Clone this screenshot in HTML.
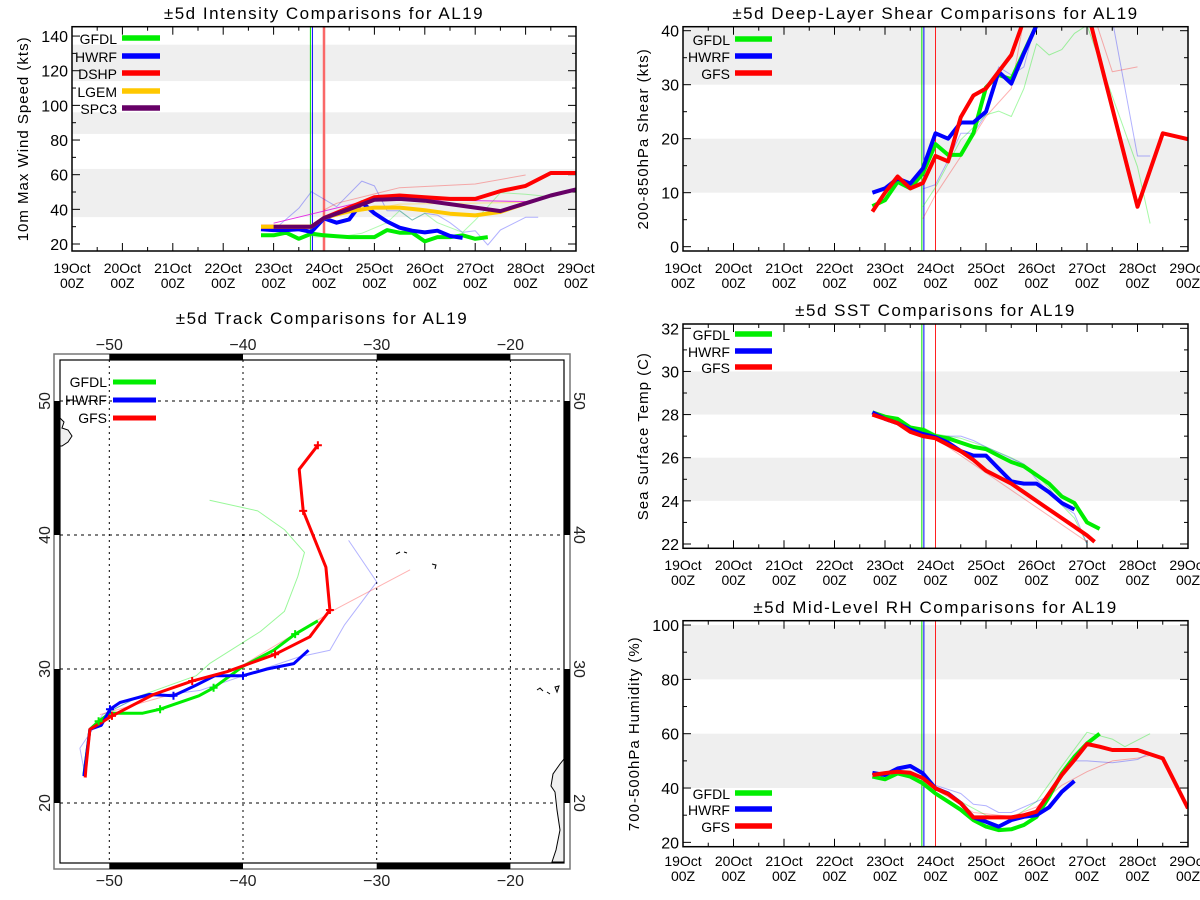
<!DOCTYPE html>
<html><head><meta charset="utf-8"><style>
html,body{margin:0;padding:0;background:#fff;}
svg{display:block;font-family:"Liberation Sans",sans-serif;}
</style></head><body>
<svg id="root" width="1200" height="900" viewBox="0 0 1200 900" xmlns="http://www.w3.org/2000/svg">
<rect x="0" y="0" width="1200" height="900" fill="#fff"/>
</svg>
<script>
// ---------- shared ----------
const dayLabels = ["19Oct","20Oct","21Oct","22Oct","23Oct","24Oct","25Oct","26Oct","27Oct","28Oct","29Oct"];
const initLines = [4.73, 4.77, 5.0];

// ---------- intensity data (days since 19Oct 00Z, kts) ----------
const intGfdlT = [3.75,4,4.25,4.5,4.75,5,5.25,5.5,5.75,6,6.25,6.5,6.75,7,7.25,7.5,7.75,8,8.25];
const intGfdlV = [25,25,26.5,23,26,25,24.5,24,24,24,28,26.5,26.5,21.5,24,24,25,23,24];
const intHwrfT = [3.75,4,4.25,4.5,4.75,5,5.25,5.5,5.75,6,6.25,6.5,6.75,7,7.25,7.5,7.75];
const intHwrfV = [28.5,28,28,28.5,27,34.8,32.3,34.2,44,37.7,33,29.4,27.7,26.7,27.7,24.6,23.5];
const intDshpT = [3.75,4,4.25,4.5,4.75,5,5.5,6,6.5,7,7.5,8,8.5,9,9.5,10];
const intDshpV = [30,30,30,30,30,35,41,47,48,47,46,46,50.5,53.5,61,61];
const intLgemT = [3.75,4,4.25,4.5,4.75,5,5.5,6,6.5,7,7.5,8,8.5,9];
const intLgemV = [30,30,30,30,30,35,39,41,41,39.5,37.5,36.5,38.5,43.5];
const intSpc3T = [4,4.25,4.5,4.75,5,5.5,6,6.5,7,7.5,8,8.5,9,9.5,10];
const intSpc3V = [30,30,30,30,35,40,45.5,46,45,43,41,39,43.5,48,51.5];
const intOldHwrfT = [4,4.5,4.75,5.25,5.75,6,6.25,6.5,6.75,7,7.25,7.5,7.75,8,8.25,8.5,9,9.25];
const intOldHwrfV = [28,40.6,50.2,41.5,56.3,53.5,39.2,39.2,33.8,37.7,36.7,32.3,26.7,27.7,19.4,28.1,35.4,35.4];
const intOldGfdlT = [4.75,5.25,5.75,6.25,6.5,6.75,7,7.25,7.75,8,8.25,8.5,9,9.5];
const intOldGfdlV = [24.2,23.8,26.2,32.3,39.2,33.8,37.7,32.3,26.7,33.8,41.5,49.6,48.7,47.3];
const intOldDshpT = [5,5.25,6.5,8,9];
const intOldDshpV = [39.6,43.5,52.5,54.6,59.8];
const intOldSpc3T = [4,6,9];
const intOldSpc3V = [32,46,44.5];
const intOldLgemT = [5,6.5,9];
const intOldLgemV = [35,43,44];

// ---------- shear data ----------
const shrGfdlT = [3.75,4,4.25,4.5,4.75,5,5.25,5.5,5.75,6,6.25,6.5,6.75,7];
const shrGfdlV = [7.5,8.6,12,10.8,13.6,19,17,17,21,29.5,31.8,31,36,41];
const shrHwrfT = [3.75,4,4.25,4.5,4.75,5,5.25,5.5,5.75,6,6.25,6.5,6.75,7];
const shrHwrfV = [10,10.8,12.6,11.7,14.5,21,20,23,23,25,32.4,30.2,35.8,41];
const shrGfsT = [3.75,4,4.25,4.5,4.75,5,5.25,5.5,5.75,6,6.25,6.5,6.75,7,8,9,9.5,10];
const shrGfsV = [6.5,10,13,10.8,11.8,16.8,15.8,24,28,29.3,32.4,35.5,42,50,44,7.4,21,19.9];
const shrOldGfdlT = [4.75,5,5.5,6,6.25,6.5,6.75,7,7.25,7.5,7.75,8,9,9.25];
const shrOldGfdlV = [7.4,11,19.8,24.4,25.1,24.1,29.3,37.6,35.5,36.5,39.5,41,14.8,4.3];
const shrOldHwrfT = [4.75,5,5.25,5.5,5.75,6,6.25,6.5,6.75,7,8.5,9,9.25];
const shrOldHwrfV = [10.7,11.5,16,21,21,24.5,33.3,31.8,33.3,42,42,16.8,16.8];
const shrOldGfsT = [4.75,5,5.5,6,6.5,6.75,8.2,8.5,9];
const shrOldGfsV = [5.2,9.6,16.7,24.1,29.3,42,41,32.4,33.3];

// ---------- SST data ----------
const sstGfdlT = [3.75,4,4.25,4.5,4.75,5,5.25,5.5,5.75,6,6.25,6.5,6.75,7,7.25,7.5,7.75,8,8.25];
const sstGfdlV = [28.1,27.9,27.8,27.4,27.3,27.0,26.9,26.7,26.5,26.4,26.1,25.8,25.6,25.2,24.8,24.2,23.9,23.0,22.7];
const sstHwrfT = [3.75,4,4.25,4.5,4.75,5,5.25,5.5,5.75,6,6.25,6.5,6.75,7,7.25,7.5,7.75];
const sstHwrfV = [28.1,27.8,27.6,27.3,27.1,26.95,26.7,26.3,26.1,26.1,25.5,24.9,24.8,24.8,24.4,23.9,23.6];
const sstGfsT = [3.75,4,4.25,4.5,4.75,5,5.25,5.5,5.75,6,6.25,6.5,6.75,7,7.25,7.5,7.75,8,8.15];
const sstGfsV = [28.0,27.8,27.6,27.2,27.0,26.9,26.6,26.3,25.9,25.4,25.1,24.8,24.4,24.0,23.6,23.2,22.8,22.4,22.1];
const sstOldHwrfT = [5,5.5,5.75,6,6.75,7,7.25,7.5,7.75,8];
const sstOldHwrfV = [27,27,26.8,26.5,25.7,25.0,24.4,23.8,23.4,22.0];
const sstOldGfdlT = [4.75,5,5.5,6,6.5,6.75,7,7.25,7.5,7.75,8];
const sstOldGfdlV = [27.4,27.1,26.9,26.5,26.0,25.7,25.2,24.6,23.8,23.2,22.0];
const sstOldGfsT = [5,8];
const sstOldGfsV = [26.9,22.1];

// ---------- RH data ----------
const rhGfdlT = [3.75,4,4.25,4.5,4.75,5,5.25,5.5,5.75,6,6.25,6.5,6.75,7,7.25,7.5,7.75,8,8.25];
const rhGfdlV = [44.2,43.2,45.4,44.2,41.7,38,35,32,28.2,25.8,24.5,24.8,26.4,29.4,36.8,45.4,51.5,56.4,60];
const rhHwrfT = [3.75,4,4.25,4.5,4.75,5,5.25,5.5,5.75,6,6.25,6.5,6.75,7,7.25,7.5,7.75];
const rhHwrfV = [45.6,44.8,47.2,48.1,45.4,39.9,38,34.4,29.2,27.6,25.8,28.2,29.4,30,32.9,38.6,42.6];
const rhGfsT = [3.75,4,4.25,4.5,4.75,5,5.25,5.5,5.75,6,6.25,6.5,6.75,7,7.25,7.5,7.75,8,8.25,8.5,9,9.5,10];
const rhGfsV = [44.8,45.5,46,45.6,43.6,39.9,37.8,34.4,29.2,29.2,29.2,29.2,30,31.3,38,44.8,50.3,56.2,55.2,54,54,50.9,32.5];
const rhOldGfdlT = [5,6,6.5,7,7.5,8,8.5,8.75,9.25];
const rhOldGfdlV = [40,30,28.5,35,48,60.5,58,55.2,60];
const rhOldHwrfT = [5,5.5,5.75,6,6.25,6.5,7,7.25,7.5,7.75,8,8.5,9,9.25];
const rhOldHwrfV = [41,38,34,33.5,31,31,35,37,44,50,50,49.3,50.5,53];
const rhOldGfsT = [5,5.75,6.5,7,7.5,8,8.5,9,9.25];
const rhOldGfsV = [39.5,31,29.5,33,41,46,50,51,52];

// ---------- track data (lon, lat) ----------
const trkGfsLon = [-51.8,-51.75,-51.45,-50.6,-49.8,-46.7,-43.8,-41.2,-37.6,-35.0,-33.5,-33.8,-35.5,-35.8,-34.4];
const trkGfsLat = [21.9,22.6,25.5,26.0,26.5,28.1,29.1,29.8,31.1,32.4,34.4,37.6,41.8,44.9,46.7];
const trkGfsMarkLon = [-49.8,-43.8,-37.6,-33.5,-35.5,-34.4];
const trkGfsMarkLat = [26.5,29.1,31.1,34.4,41.8,46.7];
const trkGfdlLon = [-51.9,-51.45,-50.8,-49.95,-47.5,-46.2,-43.3,-42.2,-40,-37.7,-36.1,-34.4];
const trkGfdlLat = [22.1,25.5,26.1,26.7,26.7,27.0,28.0,28.6,30.2,31.4,32.6,33.6];
const trkGfdlMarkLon = [-50.8,-46.2,-42.2,-36.1];
const trkGfdlMarkLat = [26.1,27.0,28.6,32.6];
const trkHwrfLon = [-51.9,-51.45,-50.6,-49.95,-49.2,-47,-45.2,-43.5,-42.1,-40,-38.2,-36.2,-35.1];
const trkHwrfLat = [22.0,25.5,25.8,27.0,27.5,28.1,28.0,28.8,29.5,29.5,30.0,30.4,31.4];
const trkHwrfMarkLon = [-49.95,-45.2,-40];
const trkHwrfMarkLat = [27.0,28.0,29.5];
const trkOldGfdlLon = [-42.5,-38.9,-36.9,-35.4,-35.9,-36.9,-38.7,-42.5,-43.5,-47.7,-50.2,-51.3];
const trkOldGfdlLat = [42.6,41.8,40.4,38.7,36.9,34.3,32.8,30.4,29.5,28,26.7,25.5];
const trkOldHwrfLon = [-32.1,-30,-32.4,-33.5,-35.8,-38.5,-43.2,-48,-50.5,-52.2,-51.9];
const trkOldHwrfLat = [39.6,36.5,33.3,31.4,30.9,30.0,28.4,27.8,26.6,24.1,22.5];
const trkOldGfsLon = [-27.5,-33,-40,-45,-50.7];
const trkOldGfsLat = [37.4,34.5,30.3,28.2,26.6];

// ---------- drawing helpers ----------
const NS = "http://www.w3.org/2000/svg";
const root = document.getElementById("root");
function mk(tag, attrs, parent) {
  const e = document.createElementNS(NS, tag);
  for (const k in attrs) e.setAttribute(k, attrs[k]);
  (parent || root).appendChild(e);
  return e;
}
function txt(s, attrs, parent) { const e = mk("text", attrs, parent); e.textContent = s; return e; }

let clipN = 0;
function panel(c) {
  const g = mk("g", {});
  
  
  const xs = d => c.x0 + (c.x1 - c.x0) * d / 10;
  const ys = v => c.y1 - (c.y1 - c.y0) * (v - c.vmin) / (c.vmax - c.vmin);
  c.bands.forEach(b => {
    const r = mk("rect", {x: c.x0, y: ys(Math.min(b[1], c.vmax)), width: c.x1 - c.x0, height: ys(b[0]) - ys(Math.min(b[1], c.vmax)), fill: "#efefef"}, g);
    
    
  });
  const t = txt(c.title, {x: (c.x0 + c.x1) / 2, y: c.titleY, "text-anchor": "middle", "font-size": 17, "letter-spacing": 1.5, fill: "#000"}, g);
  
  
  const yl = txt(c.ylabel, {x: 0, y: 0, "text-anchor": "middle", "font-size": 15, "letter-spacing": 1, fill: "#000", transform: `translate(${c.ylabelX},${(c.y0 + c.y1) / 2}) rotate(-90)`}, g);
  
  
  for (let d = 0; d <= 10; d++) {
    const x = xs(d);
    mk("line", {x1: x, x2: x, y1: c.y1, y2: c.y1 - 8, stroke: "#000", "stroke-width": 1}, g);
    mk("line", {x1: x, x2: x, y1: c.y0, y2: c.y0 + 8, stroke: "#000", "stroke-width": 1}, g);
    if (d < 10) {
      const xm = xs(d + 0.5);
      mk("line", {x1: xm, x2: xm, y1: c.y1, y2: c.y1 - 4, stroke: "#000"}, g);
      mk("line", {x1: xm, x2: xm, y1: c.y0, y2: c.y0 + 4, stroke: "#000"}, g);
    }
    const l1 = txt(dayLabels[d], {x: x, y: c.labY, "text-anchor": "middle", "font-size": 14, fill: "#000"}, g);
    
    
    const l2 = txt("00Z", {x: x, y: c.labY + 15, "text-anchor": "middle", "font-size": 14, fill: "#000"}, g);
    
    
  }
  for (let v = c.tickStart; v <= c.vmax + 1e-9; v += c.minor) {
    const y = ys(v);
    const major = Math.abs(((v - c.tickStart) / c.major) - Math.round((v - c.tickStart) / c.major)) < 1e-6;
    const len = major ? 8 : 4;
    mk("line", {x1: c.x0, x2: c.x0 + len, y1: y, y2: y, stroke: "#000"}, g);
    mk("line", {x1: c.x1, x2: c.x1 - len, y1: y, y2: y, stroke: "#000"}, g);
    if (major) {
      const yt = txt(String(Math.round(v)), {x: c.x0 - 4, y: y + 6, "text-anchor": "end", "font-size": 16, fill: "#000"}, g);
      
      
    }
  }
  const id = "clp" + (clipN++);
  const cp = mk("clipPath", {id: id}, g);
  mk("rect", {x: c.x0, y: c.y0, width: c.x1 - c.x0, height: c.y1 - c.y0}, cp);
  const sg = mk("g", {"clip-path": `url(#${id})`}, g);
  if (c.bandInit) {
    mk("rect", {x: xs(initLines[2]) - 1.5, y: c.y0, width: 3, height: c.y1 - c.y0, fill: "#f6b0b0"}, sg);
  }
  const ic = ["#00e000", "#0000ff", "#ff2020"];
  initLines.forEach((d, i) => {
    const l = mk("line", {x1: xs(d), x2: xs(d), y1: c.y0, y2: c.y1, stroke: ic[i], "stroke-width": 1}, sg);
    
    
  });
  c.series.forEach(s => {
    const pts = s.t.map((d, i) => xs(d).toFixed(1) + "," + ys(s.v[i]).toFixed(1)).join(" ");
    const p = mk("polyline", {points: pts, fill: "none", stroke: s.color, "stroke-width": s.w, opacity: s.op || 1, "stroke-linejoin": "round"}, sg);
    
    
  });
  mk("rect", {x: c.x0, y: c.y0, width: c.x1 - c.x0, height: c.y1 - c.y0, fill: "none", stroke: "#000", "stroke-width": 1.5}, g);
  c.legend.forEach((e, i) => {
    const y = c.legY[i];
    const lt = txt(e[0], {x: c.legTextX, y: y + 6, "text-anchor": "end", "font-size": 14, fill: "#000"}, g);
    
    
    const ll = mk("line", {x1: c.legX0, x2: c.legX1, y1: y, y2: y, stroke: e[1], "stroke-width": 5.5}, g);
    
    
  });
}

const G = "#00ee00", B = "#0000ff", R = "#ff0000", O = "#ffc800", P = "#660066";
const TW = 4;

panel({name: "intensity-panel", x0: 72, x1: 576, y0: 26.7, y1: 251, vmin: 15.96, vmax: 145.4,
  bands: [[35.5, 63.3], [83.5, 96], [114, 135]], title: "±5d Intensity Comparisons for AL19", titleY: 19,
  ylabel: "10m Max Wind Speed (kts)", ylabelX: 28, labY: 273, tickStart: 20, major: 20, minor: 10, bandInit: true,
  series: [
    {name: "hwrf-previous-line", t: intOldHwrfT, v: intOldHwrfV, color: B, w: 1, op: 0.3},
    {name: "gfdl-previous-line", t: intOldGfdlT, v: intOldGfdlV, color: G, w: 1, op: 0.3},
    {name: "dshp-previous-line", t: intOldDshpT, v: intOldDshpV, color: R, w: 1, op: 0.3},
    {name: "lgem-previous-line", t: intOldLgemT, v: intOldLgemV, color: O, w: 1, op: 0.4},
    {name: "spc3-previous-line", t: intOldSpc3T, v: intOldSpc3V, color: "#e000e0", w: 1, op: 0.8},
    {name: "gfdl-line", t: intGfdlT, v: intGfdlV, color: G, w: TW},
    {name: "hwrf-line", t: intHwrfT, v: intHwrfV, color: B, w: TW},
    {name: "dshp-line", t: intDshpT, v: intDshpV, color: R, w: TW},
    {name: "lgem-line", t: intLgemT, v: intLgemV, color: O, w: TW},
    {name: "spc3-line", t: intSpc3T, v: intSpc3V, color: P, w: TW}],
  legend: [["GFDL", G], ["HWRF", B], ["DSHP", R], ["LGEM", O], ["SPC3", P]],
  legY: [38, 56, 73, 91, 108], legTextX: 117, legX0: 122, legX1: 160});

panel({name: "shear-panel", x0: 683, x1: 1188, y0: 26.7, y1: 251, vmin: -0.8, vmax: 40.74,
  bands: [[10, 20], [30, 40.74]], title: "±5d Deep-Layer Shear Comparisons for AL19", titleY: 19,
  ylabel: "200-850hPa Shear (kts)", ylabelX: 648, labY: 273, tickStart: 0, major: 10, minor: 5,
  series: [
    {name: "gfdl-previous-line", t: shrOldGfdlT, v: shrOldGfdlV, color: G, w: 1, op: 0.35},
    {name: "hwrf-previous-line", t: shrOldHwrfT, v: shrOldHwrfV, color: B, w: 1, op: 0.3},
    {name: "gfs-previous-line", t: shrOldGfsT, v: shrOldGfsV, color: R, w: 1, op: 0.3},
    {name: "gfdl-line", t: shrGfdlT, v: shrGfdlV, color: G, w: TW},
    {name: "hwrf-line", t: shrHwrfT, v: shrHwrfV, color: B, w: TW},
    {name: "gfs-line", t: shrGfsT, v: shrGfsV, color: R, w: TW}],
  legend: [["GFDL", G], ["HWRF", B], ["GFS", R]],
  legY: [39, 56, 73], legTextX: 730, legX0: 735, legX1: 772});

panel({name: "sst-panel", x0: 683, x1: 1188, y0: 324, y1: 548.3, vmin: 21.8, vmax: 32.2,
  bands: [[24, 26], [28, 30]], title: "±5d SST Comparisons for AL19", titleY: 316,
  ylabel: "Sea Surface Temp (C)", ylabelX: 648, labY: 570, tickStart: 22, major: 2, minor: 1,
  series: [
    {name: "gfdl-previous-line", t: sstOldGfdlT, v: sstOldGfdlV, color: G, w: 1, op: 0.35},
    {name: "hwrf-previous-line", t: sstOldHwrfT, v: sstOldHwrfV, color: B, w: 1, op: 0.3},
    {name: "gfs-previous-line", t: sstOldGfsT, v: sstOldGfsV, color: R, w: 1, op: 0.3},
    {name: "gfdl-line", t: sstGfdlT, v: sstGfdlV, color: G, w: TW},
    {name: "hwrf-line", t: sstHwrfT, v: sstHwrfV, color: B, w: TW},
    {name: "gfs-line", t: sstGfsT, v: sstGfsV, color: R, w: TW}],
  legend: [["GFDL", G], ["HWRF", B], ["GFS", R]],
  legY: [334, 351, 367], legTextX: 730, legX0: 735, legX1: 772});

panel({name: "rh-panel", x0: 683, x1: 1188, y0: 620.7, y1: 846.7, vmin: 18.4, vmax: 101.6,
  bands: [[40, 60], [80, 100]], title: "±5d Mid-Level RH Comparisons for AL19", titleY: 613,
  ylabel: "700-500hPa Humidity (%)", ylabelX: 639, labY: 866, tickStart: 20, major: 20, minor: 10,
  series: [
    {name: "gfdl-previous-line", t: rhOldGfdlT, v: rhOldGfdlV, color: G, w: 1, op: 0.35},
    {name: "hwrf-previous-line", t: rhOldHwrfT, v: rhOldHwrfV, color: B, w: 1, op: 0.3},
    {name: "gfs-previous-line", t: rhOldGfsT, v: rhOldGfsV, color: R, w: 1, op: 0.3},
    {name: "gfdl-line", t: rhGfdlT, v: rhGfdlV, color: G, w: TW},
    {name: "hwrf-line", t: rhHwrfT, v: rhHwrfV, color: B, w: TW},
    {name: "gfs-line", t: rhGfsT, v: rhGfsV, color: R, w: TW}],
  legend: [["GFDL", G], ["HWRF", B], ["GFS", R]],
  legY: [793, 809, 826], legTextX: 730, legX0: 735, legX1: 772});

// ---------- track map ----------
(function () {
  const g = mk("g", {});
  
  
  const lx = lon => 109.3 + (lon + 50) * 13.37;
  const ly = lat => 803 - (lat - 20) * 13.4;
  const X0 = 60, X1 = 564, Y0 = 360, Y1 = 863, O0x = 54, O1x = 570, O0y = 354, O1y = 869;
  const t = txt("±5d Track Comparisons for AL19", {x: 322, y: 324, "text-anchor": "middle", "font-size": 17, "letter-spacing": 1.5}, g);
  
  
  mk("rect", {x: O0x, y: O0y, width: O1x - O0x, height: O1y - O0y, fill: "none", stroke: "#777", "stroke-width": 1.5}, g);
  [[-50, -40], [-30, -20]].forEach(r => {
    mk("rect", {x: lx(r[0]), y: O0y, width: lx(r[1]) - lx(r[0]), height: Y0 - O0y, fill: "#000"}, g);
    mk("rect", {x: lx(r[0]), y: Y1, width: lx(r[1]) - lx(r[0]), height: O1y - Y1, fill: "#000"}, g);
  });
  [[40, 50], [20, 30]].forEach(r => {
    mk("rect", {x: O0x, y: ly(r[1]), width: X0 - O0x, height: ly(r[0]) - ly(r[1]), fill: "#000"}, g);
    mk("rect", {x: X1, y: ly(r[1]), width: O1x - X1, height: ly(r[0]) - ly(r[1]), fill: "#000"}, g);
  });
  mk("rect", {x: X0, y: Y0, width: X1 - X0, height: Y1 - Y0, fill: "none", stroke: "#000", "stroke-width": 1.2}, g);
  [-50, -40, -30, -20].forEach(lon => {
    const x = lx(lon);
    const gl = mk("line", {x1: x, x2: x, y1: Y0, y2: Y1, stroke: "#000", "stroke-dasharray": "2,4"}, g);
    
    
    const a = txt("−" + (-lon), {x: x, y: 350, "text-anchor": "middle", "font-size": 16, fill: "#222"}, g);
    
    
    const b = txt("−" + (-lon), {x: x, y: 886, "text-anchor": "middle", "font-size": 16, fill: "#222"}, g);
    
    
  });
  [20, 30, 40, 50].forEach(lat => {
    const y = ly(lat);
    const gl = mk("line", {x1: X0, x2: X1, y1: y, y2: y, stroke: "#000", "stroke-dasharray": "3,4"}, g);
    
    
    const a = txt(String(lat), {x: 0, y: 0, "text-anchor": "middle", "font-size": 16, fill: "#222", transform: `translate(50,${y}) rotate(-90)`}, g);
    
    
    const b = txt(String(lat), {x: 0, y: 0, "text-anchor": "middle", "font-size": 16, fill: "#222", transform: `translate(574,${y}) rotate(90)`}, g);
    
    
  });
  const coast = mk("g", {fill: "#f0f0f0", stroke: "#000", "stroke-width": 1}, g);
  
  
  mk("path", {d: "M60,418 L64,422 L62,428 L68,430 L72,436 L68,442 L62,446 L60,446 Z"}, coast);
  mk("path", {d: "M396,554 L400,552 M404,552 l3,1 M432,564 l4,1 l-1,4"}, coast);
  mk("path", {d: "M537,690 l3,-2 l3,3 M547,692 l3,2 M555,687 l4,-1 l-2,6 Z"}, coast);
  mk("path", {d: "M564,759 L560,764 L553,774 L551,786 L555,792 L557,810 L560,830 L556,850 L552,862 L564,862 Z"}, coast);
  const cp = mk("clipPath", {id: "trkclip"}, g);
  mk("rect", {x: X0, y: Y0, width: X1 - X0, height: Y1 - Y0}, cp);
  const sg = mk("g", {"clip-path": "url(#trkclip)"}, g);
  function line(lons, lats, color, w, op, name) {
    const pts = lons.map((lo, i) => lx(lo).toFixed(1) + "," + ly(lats[i]).toFixed(1)).join(" ");
    const p = mk("polyline", {points: pts, fill: "none", stroke: color, "stroke-width": w, opacity: op, "stroke-linejoin": "round"}, sg);
    
    
  }
  function marks(lons, lats, color, name) {
    lons.forEach((lo, i) => {
      const x = lx(lo), y = ly(lats[i]);
      const m = mk("path", {d: `M${x - 4},${y} h8 M${x},${y - 4} v8`, stroke: color, "stroke-width": 2}, sg);
      
      
    });
  }
  line(trkOldGfdlLon, trkOldGfdlLat, G, 1, 0.4, "gfdl-previous-track");
  line(trkOldHwrfLon, trkOldHwrfLat, B, 1, 0.3, "hwrf-previous-track");
  line(trkOldGfsLon, trkOldGfsLat, R, 1, 0.3, "gfs-previous-track");
  line(trkGfdlLon, trkGfdlLat, G, 3, 1, "gfdl-track");
  line(trkHwrfLon, trkHwrfLat, B, 3, 1, "hwrf-track");
  line(trkGfsLon, trkGfsLat, R, 3, 1, "gfs-track");
  marks(trkGfdlMarkLon, trkGfdlMarkLat, G, "gfdl-track-marker");
  marks(trkHwrfMarkLon, trkHwrfMarkLat, B, "hwrf-track-marker");
  marks(trkGfsMarkLon, trkGfsMarkLat, R, "gfs-track-marker");
  [["GFDL", G, 382], ["HWRF", B, 400], ["GFS", R, 418]].forEach(e => {
    const lt = txt(e[0], {x: 107, y: e[2] + 5, "text-anchor": "end", "font-size": 14}, g);
    
    
    const ll = mk("line", {x1: 113, x2: 156, y1: e[2], y2: e[2], stroke: e[1], "stroke-width": 5}, g);
    
    
  });
})();
</script>
</body></html>
